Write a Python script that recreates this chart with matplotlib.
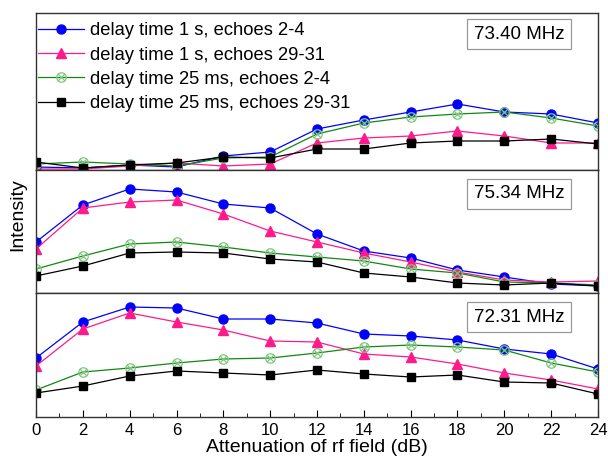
import matplotlib
matplotlib.use('Agg')
import matplotlib.pyplot as plt
from matplotlib.path import Path

plt.rcParams['font.family'] = ['Liberation Sans', 'DejaVu Sans']

# ── Data (arbitrary intensity units) ───────────────────────────────────────────
atten = [0, 2, 4, 6, 8, 10, 12, 14, 16, 18, 20, 22, 24]

labels = ["delay time 1 s, echoes 2-4",
          "delay time 1 s, echoes 29-31",
          "delay time 25 ms, echoes 2-4",
          "delay time 25 ms, echoes 29-31"]

freqs = ["73.40 MHz", "75.34 MHz", "72.31 MHz"]

# 73.40 MHz
f1_blue  = [3, 2, 5, 3, 14, 18, 41, 50, 58, 66, 58, 56, 47]
f1_pink  = [1, 1, 4, 7, 4, 6, 27, 32, 34, 39, 34, 27, 27]
f1_green = [6, 8, 6, 4, 12, 13, 36, 47, 53, 56, 58, 52, 44]
f1_black = [8, 2, 5, 7, 13, 12, 21, 21, 27, 29, 29, 31, 26]

# 75.34 MHz
f2_blue  = [51, 88, 104, 101, 89, 85, 59, 42, 35, 23, 16, 9, 7]
f2_pink  = [44, 85, 91, 93, 79, 62, 51, 40, 31, 21, 13, 11, 12]
f2_green = [24, 37, 49, 51, 46, 40, 36, 32, 24, 20, 11, 10, 8]
f2_black = [17, 27, 40, 41, 40, 34, 31, 20, 16, 10, 8, 10, 7]

# 72.31 MHz
f3_blue  = [59, 95, 110, 109, 98, 98, 94, 83, 81, 77, 68, 63, 48]
f3_pink  = [51, 88, 104, 95, 87, 76, 75, 63, 60, 53, 44, 37, 28]
f3_green = [27, 45, 49, 54, 58, 59, 64, 70, 72, 70, 67, 54, 45]
f3_black = [24, 31, 41, 46, 44, 42, 47, 43, 40, 42, 35, 34, 23]

panels = [
    (f1_blue, f1_pink, f1_green, f1_black),
    (f2_blue, f2_pink, f2_green, f2_black),
    (f3_blue, f3_pink, f3_green, f3_black),
]
panel_heights = [157, 123, 124]

# ── Styles ─────────────────────────────────────────────────────────────────────
circ = Path.unit_circle()
d = 0.707
xa = Path([[-d, -d], [d, d]], [Path.MOVETO, Path.LINETO])
xb = Path([[-d, d], [d, -d]], [Path.MOVETO, Path.LINETO])
CIRC_X = Path.make_compound_path(circ, xa, xb)

styles = [
    dict(color='#0000FF', marker='o', ms=6.5, mfc='#0000FF', mec='#0000FF'),
    dict(color='#FF1A8C', marker='^', ms=6.5, mfc='#FF1A8C', mec='#FF1A8C'),
    dict(color='#118811', marker=CIRC_X, ms=6.8, mfc='none', mec='#80C880', mew=0.9),
    dict(color='#000000', marker='s', ms=5.2, mfc='#000000', mec='#000000'),
]

fig = plt.figure(figsize=(6.08, 4.61), dpi=100)
gs = fig.add_gridspec(3, 1, height_ratios=panel_heights, hspace=0,
                      left=36/608, right=598/608, top=1-13/461, bottom=1-417/461)

axes = []
for i, series in enumerate(panels):
    ax = fig.add_subplot(gs[i])
    axes.append(ax)
    for vals, st, lab in zip(series, styles, labels):
        ax.plot(atten, vals, lw=0.9, label=lab, **st)
    ax.set_xlim(0, 24)
    ax.set_ylim(0, panel_heights[i])
    ax.set_yticks([])
    for sp in ax.spines.values():
        sp.set_linewidth(1.0)
        sp.set_color('#333333')
    if i < 2:
        ax.tick_params(axis='x', which='both', bottom=False, labelbottom=False)
    ax.text(0.86, 0.866 if i == 0 else 0.805, freqs[i], transform=ax.transAxes,
            ha='center', va='center', fontsize=13.5,
            bbox=dict(boxstyle='square,pad=0.36', facecolor='white',
                      edgecolor='#999999', linewidth=0.9))

ax = axes[-1]
ax.set_xticks(atten)
ax.set_xticks(range(0, 25), minor=True)
ax.tick_params(axis='x', which='major', direction='in', length=5, labelsize=12, pad=4)
ax.tick_params(axis='x', which='minor', direction='in', length=3)
ax.set_xlabel("Attenuation of rf field (dB)", fontsize=14, labelpad=1)

axes[0].legend(loc='upper left', bbox_to_anchor=(-0.012, 1.0), frameon=False,
               fontsize=13.2, handlelength=2.5, handletextpad=0.3, labelspacing=0.4,
               borderaxespad=0.05, borderpad=0.45)

fig.text(0.03, 1 - 215/461, "Intensity", rotation=90, ha='center', va='center',
         fontsize=14)

fig.savefig("out.png", dpi=100)
